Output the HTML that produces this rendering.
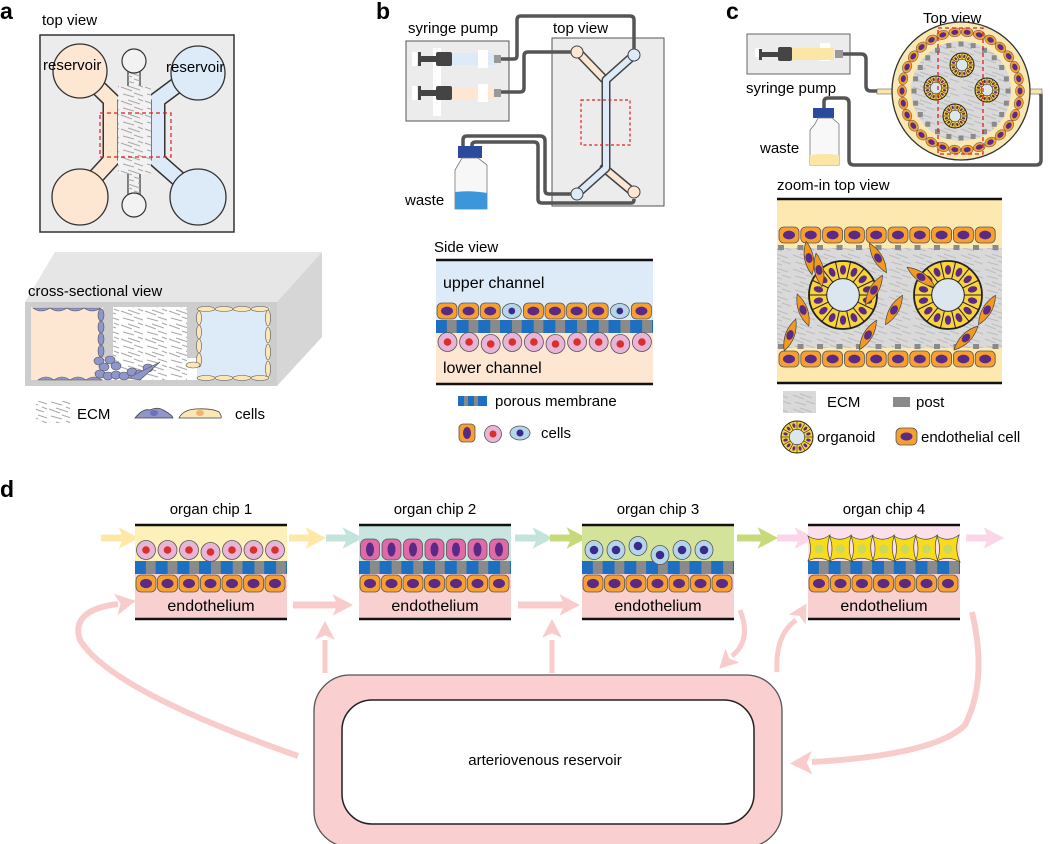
<!DOCTYPE html>
<html><head><meta charset="utf-8"><style>
html,body{margin:0;padding:0;background:#fff;}
svg{display:block;font-family:"Liberation Sans",sans-serif;}
</style></head><body>
<svg id="s" width="1050" height="844" viewBox="0 0 1050 844" xmlns="http://www.w3.org/2000/svg">
<defs>
<pattern id="ecm" width="24" height="14" patternUnits="userSpaceOnUse">
<path d="M1,3 L12,7 M8,2 L20,6 M3,10 L14,13 M14,9 L23,12 M18,1 L23,3" stroke="#a8a8a8" stroke-width="1" fill="none"/>
</pattern>
<pattern id="ecm2" width="24" height="14" patternUnits="userSpaceOnUse">
<rect width="24" height="14" fill="#d9d9d9"/>
<path d="M1,3 L12,7 M8,2 L20,6 M3,10 L14,13 M14,9 L23,12" stroke="#bdbdbd" stroke-width="1" fill="none"/>
</pattern>
</defs>

<!-- ===== Panel a ===== -->
<text x="0" y="19" font-size="23" font-weight="bold">a</text>
<text x="42" y="25" font-size="15">top view</text>
<rect x="40" y="35" width="194" height="197" fill="#ececec" stroke="#333" stroke-width="1.5"/>
<g stroke="#333" stroke-width="17" fill="none" stroke-linejoin="miter">
<path d="M78,68 L111,100 L111,160 L78,196"/>
<path d="M200,68 L157,100 L157,160 L198,196"/>
</g>
<g stroke-width="14" fill="none">
<path d="M78,68 L111,100 L111,160 L78,196" stroke="#fde6d2"/>
<path d="M200,68 L157,100 L157,160 L198,196" stroke="#ddeaf8"/>
</g>
<circle cx="80" cy="71" r="27" fill="#fde6d2" stroke="#333" stroke-width="1.3"/>
<circle cx="198" cy="73" r="27" fill="#ddeaf8" stroke="#333" stroke-width="1.3"/>
<circle cx="80" cy="197" r="28" fill="#fde6d2" stroke="#333" stroke-width="1.3"/>
<circle cx="198" cy="197" r="28" fill="#ddeaf8" stroke="#333" stroke-width="1.3"/>
<polygon points="128,70 128,86 118,100 118,160 128,172 128,195 140,195 140,172 151,160 151,100 140,86 140,70" fill="#f2f2f2" stroke="#333" stroke-width="1.2"/>
<polygon points="128,70 128,86 118,100 118,160 128,172 128,195 140,195 140,172 151,160 151,100 140,86 140,70" fill="url(#ecm)"/>
<circle cx="134" cy="61" r="12" fill="#f2f2f2" stroke="#333" stroke-width="1.2"/>
<circle cx="134" cy="205" r="12" fill="#f2f2f2" stroke="#333" stroke-width="1.2"/>
<rect x="118" y="86" width="33" height="88" fill="#f2f2f2"/>
<rect x="118" y="86" width="33" height="88" fill="url(#ecm)"/>
<text x="43" y="70" font-size="15">reservoir</text>
<text x="166" y="72" font-size="15">reservoir</text>
<rect x="100" y="113" width="71" height="44" fill="none" stroke="#e02020" stroke-width="1.2" stroke-dasharray="4,3"/>

<!-- cross-section box -->
<polygon points="25,302 55,252 322,252 277,302" fill="#e6e6e6"/>
<polygon points="277,302 322,252 322,337 277,386" fill="#d6d6d6"/>
<rect x="25" y="302" width="252" height="84" fill="#cdcdcd"/>
<text x="28" y="296" font-size="15">cross-sectional view</text>
<rect x="31" y="307" width="72" height="73" fill="#fde6d2"/>
<rect x="103" y="358" width="94" height="22" fill="#fff"/>
<rect x="113" y="307" width="74" height="73" fill="#fff"/>
<rect x="113" y="307" width="74" height="73" fill="url(#ecm)"/>
<rect x="197" y="307" width="73" height="73" fill="#ddeaf8"/>
<g id="acells"></g>
<rect x="36" y="401" width="34" height="22" fill="url(#ecm)"/>
<text x="77" y="419" font-size="15">ECM</text>
<path d="M135,418 Q143,408 150,410 Q158,406 165,411 Q172,415 173,418 Z" fill="#8e96cc" stroke="#444" stroke-width="0.8"/>
<ellipse cx="154" cy="413" rx="4" ry="3" fill="#6a72b8"/>
<path d="M179,418 Q183,410 195,409 Q212,408 219,412 Q222,416 221,418 Z" fill="#fbe7b5" stroke="#444" stroke-width="0.8"/>
<ellipse cx="200" cy="413" rx="4" ry="3" fill="#f4b36a"/>
<text x="235" y="419" font-size="15">cells</text>

<!-- ===== Panel b ===== -->
<text x="376" y="19" font-size="23" font-weight="bold">b</text>
<text x="408" y="33" font-size="15">syringe pump</text>
<text x="553" y="33" font-size="15">top view</text>
<rect x="406" y="41" width="103" height="80" fill="#ececec" stroke="#555" stroke-width="1"/>
<rect x="433" y="48" width="8" height="68" fill="#fff"/>
<g>
<rect x="412" y="52" width="5" height="14" fill="#fff"/>
<rect x="418" y="56" width="20" height="6" fill="#444"/>
<rect x="418" y="52" width="3" height="14" fill="#444"/>
<rect x="436" y="52" width="16" height="14" fill="#444" rx="2"/>
<rect x="452" y="53" width="46" height="12" fill="#ddeaf8"/>
<rect x="478" y="50" width="10" height="18" fill="#fff"/>
<rect x="494" y="55" width="7" height="8" fill="#999"/>
<rect x="412" y="86" width="5" height="14" fill="#fff"/>
<rect x="418" y="90" width="20" height="6" fill="#444"/>
<rect x="418" y="86" width="3" height="14" fill="#444"/>
<rect x="436" y="86" width="16" height="14" fill="#444" rx="2"/>
<rect x="452" y="87" width="46" height="12" fill="#fde6d2"/>
<rect x="478" y="84" width="10" height="18" fill="#fff"/>
<rect x="494" y="89" width="7" height="8" fill="#999"/>
</g>
<rect x="552" y="38" width="112" height="168" fill="#ececec" stroke="#555" stroke-width="1"/>
<g fill="none" stroke-linecap="round" stroke-linejoin="round">
<path d="M578,52 L604,79" stroke="#444" stroke-width="9"/>
<path d="M578,52 L604,79" stroke="#fde6d2" stroke-width="6"/>
<path d="M604,168 L634,193" stroke="#444" stroke-width="9"/>
<path d="M604,168 L634,193" stroke="#fde6d2" stroke-width="6"/>
<path d="M634,55 L606,80 L606,168 L577,194" stroke="#444" stroke-width="9"/>
<path d="M634,55 L606,80 L606,168 L577,194" stroke="#ddeaf8" stroke-width="6"/>
</g>
<circle cx="577" cy="52" r="6" fill="#fde6d2" stroke="#444"/>
<circle cx="634" cy="55" r="6" fill="#ddeaf8" stroke="#444"/>
<circle cx="577" cy="194" r="6" fill="#ddeaf8" stroke="#444"/>
<circle cx="634" cy="192" r="6" fill="#fde6d2" stroke="#444"/>
<rect x="581" y="100" width="49" height="45" fill="none" stroke="#e02020" stroke-width="1.2" stroke-dasharray="3,2.5"/>
<g fill="none" stroke="#555" stroke-width="3.5" stroke-linejoin="round">
<path d="M501,59 L514,59 Q517,59 517,55 L517,20 Q517,16 521,16 L630,16 Q634,16 634,20 L634,49"/>
<path d="M501,92 L520,92 Q524,92 524,88 L524,56 Q524,52 528,52 L571,52"/>
<path d="M463,150 L463,140 Q463,136 467,136 L540,136 Q545,136 545,141 L545,190 Q545,194 549,194 L571,194"/>
<path d="M472,150 L472,145 Q472,142 476,142 L534,142 Q538,142 538,146 L538,199 Q538,203 542,203 L631,203 Q634,203 634,199"/>
</g>
<rect x="458" y="146" width="24" height="12" fill="#2a4a9e"/>
<path d="M458,165 L462,158 L478,158 L487,165 L487,209 L455,209 L455,170 Z" fill="#f7f7f7" stroke="#777" stroke-width="0.8"/>
<path d="M455,192 Q470,190 487,193 L487,209 L455,209 Z" fill="#3b97d9"/>
<text x="405" y="205" font-size="15">waste</text>

<text x="434" y="252" font-size="15">Side view</text>
<rect x="436" y="261" width="217" height="60" fill="#ddeaf8"/>
<rect x="436" y="320" width="217" height="63" fill="#fde6d2"/>
<line x1="436" y1="260" x2="653" y2="260" stroke="#111" stroke-width="2.5"/>
<line x1="436" y1="384" x2="653" y2="384" stroke="#111" stroke-width="2.5"/>
<text x="443" y="288" font-size="16">upper channel</text>
<text x="443" y="373" font-size="16">lower channel</text>
<rect x="436" y="320" width="217" height="13" fill="#1c6fc1"/>
<g id="bside"></g>
<rect x="458" y="396" width="29" height="10" fill="#1c6fc1"/>
<rect x="464" y="396" width="4" height="10" fill="#888"/><rect x="474" y="396" width="4" height="10" fill="#888"/>
<text x="495" y="406" font-size="15">porous membrane</text>
<rect x="459" y="424" width="16" height="18" rx="4" fill="#f7a030" stroke="#555" stroke-width="0.8"/>
<ellipse cx="467" cy="433" rx="4" ry="6" fill="#5b2a86"/>
<circle cx="493" cy="434" r="8.5" fill="#e8b4d8" stroke="#555" stroke-width="0.8"/>
<circle cx="493" cy="434" r="3.5" fill="#d9302c"/>
<ellipse cx="520" cy="433" rx="10" ry="7" fill="#b5d5ea" stroke="#555" stroke-width="0.8"/>
<circle cx="520" cy="433" r="3.5" fill="#3a2a8c"/>
<text x="541" y="438" font-size="15">cells</text>

<!-- ===== Panel c ===== -->
<text x="726" y="19" font-size="23" font-weight="bold">c</text>
<text x="923" y="23" font-size="15">Top view</text>
<rect x="747" y="34" width="103" height="40" fill="#ececec" stroke="#666" stroke-width="1"/>
<rect x="755" y="48" width="6" height="9" fill="#fff"/><rect x="820" y="43" width="10" height="18" fill="#fff"/>
<rect x="759" y="49" width="3" height="11" fill="#444"/>
<rect x="760" y="52" width="20" height="5" fill="#444"/>
<rect x="778" y="47" width="14" height="14" rx="2" fill="#444"/>
<rect x="792" y="48" width="42" height="12" fill="#fbe6a6"/>
<rect x="835" y="50" width="8" height="8" fill="#999"/>
<text x="746" y="93" font-size="15">syringe pump</text>
<g fill="none" stroke="#555" stroke-width="3.5" stroke-linejoin="round">
<path d="M843,54 L861,54 Q866,54 866,59 L866,86 Q866,91 871,91 L880,91"/>
<path d="M824,112 L824,102 Q824,98 828,98 L844,98 Q849,98 849,103 L849,160 Q849,165 854,165 L1036,165 Q1041,165 1041,160 L1041,96 Q1041,91 1036,91 L1030,91"/>
</g>
<rect x="877" y="89" width="17" height="5" fill="#fbe6a6" stroke="#666" stroke-width="0.6"/>
<rect x="1028" y="89" width="14" height="5" fill="#fbe6a6" stroke="#666" stroke-width="0.6"/>
<rect x="813" y="108" width="21" height="10" fill="#2a4a9e"/>
<path d="M815,124 L818,118 L832,118 L839,124 L839,165 L810,165 L810,130 Z" fill="#f8f8f8" stroke="#777" stroke-width="0.8"/>
<path d="M810,155 Q824,153 839,155 L839,165 L810,165 Z" fill="#fbe6a6"/>
<text x="760" y="153" font-size="15">waste</text>
<circle cx="961" cy="91" r="69" fill="#fbe8b0" stroke="#333" stroke-width="1.3"/>
<circle cx="961" cy="91" r="50" fill="url(#ecm2)"/>
<g id="ctop"></g>
<rect x="938" y="28" width="45" height="126" fill="none" stroke="#e02020" stroke-width="1.3" stroke-dasharray="4,3"/>

<text x="777" y="190" font-size="15">zoom-in top view</text>
<rect x="777" y="200" width="225" height="182" fill="#fde9b0"/>
<rect x="777" y="248" width="225" height="100" fill="url(#ecm2)"/>
<line x1="777" y1="199" x2="1002" y2="199" stroke="#111" stroke-width="2.5"/>
<line x1="777" y1="383" x2="1002" y2="383" stroke="#111" stroke-width="2.5"/>
<g id="czoom"></g>
<rect x="783" y="391" width="33" height="22" fill="url(#ecm2)"/>
<text x="827" y="407" font-size="15">ECM</text>
<rect x="893" y="397" width="17" height="10" fill="#8a8a8a"/>
<text x="916" y="407" font-size="15">post</text>
<g id="clegend"></g>
<text x="817" y="442" font-size="15">organoid</text>
<rect x="896" y="428" width="21" height="17" rx="5" fill="#f7a030" stroke="#555" stroke-width="0.8"/>
<ellipse cx="906.5" cy="436.5" rx="6" ry="4" fill="#5b2a86"/>
<text x="921" y="442" font-size="15">endothelial cell</text>

<!-- ===== Panel d ===== -->
<text x="0" y="497" font-size="23" font-weight="bold">d</text>
<g id="darrows"></g>
<g id="chips"></g>
<rect x="314" y="675" width="468" height="172" rx="36" fill="#f9cfcf" stroke="#555" stroke-width="1.3"/>
<rect x="342" y="700" width="412" height="124" rx="30" fill="#fff" stroke="#222" stroke-width="1.5"/>
<text x="545" y="765" font-size="15" text-anchor="middle">arteriovenous reservoir</text>
</svg>
<script>
var NS="http://www.w3.org/2000/svg";
function el(p,t,a){var e=document.createElementNS(NS,t);for(var k in a)e.setAttribute(k,a[k]);p.appendChild(e);return e;}
function $(i){return document.getElementById(i);}
function endo(g,x,y,w,h){el(g,"rect",{x:x,y:y,width:w,height:h,rx:Math.min(w,h)*0.3,fill:"#f7a030",stroke:"#555","stroke-width":0.8});
 el(g,"ellipse",{cx:x+w/2,cy:y+h/2,rx:w*0.3,ry:h*0.27,fill:"#5b2a86"});}
function pinkC(g,cx,cy,r){el(g,"circle",{cx:cx,cy:cy,r:r,fill:"#e8b4d8",stroke:"#555","stroke-width":0.8});el(g,"circle",{cx:cx,cy:cy,r:r*0.4,fill:"#d9302c"});}
function blueC(g,cx,cy,rx,ry){el(g,"ellipse",{cx:cx,cy:cy,rx:rx,ry:ry,fill:"#b5d5ea",stroke:"#555","stroke-width":0.8});el(g,"circle",{cx:cx,cy:cy,r:ry*0.45,fill:"#3a2a8c"});}
function membrane(g,x,y,w,h,n){var s=w/n;for(var i=0;i<n;i++){el(g,"rect",{x:x+i*s+s*0.5,y:y,width:s*0.45,height:h,fill:"#8a8a8a"});}}

var ga=$("acells");
for(var i=0;i<4;i++){el(ga,"path",{d:"M"+(33+i*17)+",308 q8,6 17,0 z",fill:"#8e96cc",stroke:"#555","stroke-width":0.6});
 el(ga,"path",{d:"M"+(38+i*16)+",380 q8,-6 16,0 z",fill:"#8e96cc",stroke:"#555","stroke-width":0.6});}
for(var i=0;i<4;i++)el(ga,"ellipse",{cx:101,cy:315+i*12,rx:3,ry:6,fill:"#8e96cc",stroke:"#555","stroke-width":0.6});
var pts=[[99,361],[104,367],[110,360],[116,366],[100,374],[108,376],[116,375],[124,376],[132,372],[140,374],[148,368]];
pts.forEach(function(p){el(ga,"ellipse",{cx:p[0],cy:p[1],rx:5,ry:4,fill:"#8e96cc",stroke:"#555","stroke-width":0.6});});
el(ga,"path",{d:"M128,378 L160,362 L140,380 Z",fill:"#8e96cc",stroke:"#555","stroke-width":0.6});
for(var i=0;i<4;i++){el(ga,"ellipse",{cx:206+i*18,cy:309,rx:9,ry:2.5,fill:"#fbe7b5",stroke:"#555","stroke-width":0.6});
 el(ga,"ellipse",{cx:206+i*18,cy:378,rx:9,ry:2.5,fill:"#fbe7b5",stroke:"#555","stroke-width":0.6});
 el(ga,"ellipse",{cx:268,cy:318+i*17,rx:2.5,ry:8,fill:"#fbe7b5",stroke:"#555","stroke-width":0.6});}
for(var i=0;i<4;i++)el(ga,"ellipse",{cx:199,cy:318+i*14,rx:2.5,ry:7,fill:"#fbe7b5",stroke:"#555","stroke-width":0.6});
el(ga,"ellipse",{cx:193,cy:365,rx:7,ry:3,fill:"#fbe7b5",stroke:"#555","stroke-width":0.6});

var gb=$("bside");
membrane(gb,436,320,217,13,10);
var types="OOOBOOOOBO";
for(var i=0;i<10;i++){var x=437+i*21.6;
 if(types[i]=="O")endo(gb,x,303,20,16);else blueC(gb,x+10,311,9.5,7.5);
 pinkC(gb,x+10.5,342+(i%3==2?2:0),9.5);}

var gc=$("ctop");
for(var i=0;i<30;i++){var a=i/30*2*Math.PI,cx=961+59*Math.cos(a),cy=91+59*Math.sin(a);
 var e=el(gc,"g",{transform:"translate("+cx+","+cy+") rotate("+(a*180/Math.PI)+")"});
 el(e,"ellipse",{cx:0,cy:0,rx:4.5,ry:6,fill:"#f7a030",stroke:"#555","stroke-width":0.5});
 el(e,"ellipse",{cx:0,cy:0,rx:2.5,ry:3.5,fill:"#5b2a86"});}
for(var i=0;i<24;i++){var a=i/24*2*Math.PI;el(gc,"rect",{x:961+47*Math.cos(a)-2.5,y:91+47*Math.sin(a)-2.5,width:5,height:5,fill:"#8a8a8a"});}
function organoid(g,cx,cy,r){el(g,"circle",{cx:cx,cy:cy,r:r,fill:"#f8d43a",stroke:"#222","stroke-width":r>20?1.8:1});
 var n=r>20?14:12;for(var i=0;i<n;i++){var a=i/n*2*Math.PI,ri=r*0.48;
  el(g,"line",{x1:cx+ri*Math.cos(a),y1:cy+ri*Math.sin(a),x2:cx+r*Math.cos(a),y2:cy+r*Math.sin(a),stroke:"#222","stroke-width":r>20?1:0.6});
  var b=a+Math.PI/n,rm=r*0.74;el(g,"ellipse",{cx:cx+rm*Math.cos(b),cy:cy+rm*Math.sin(b),rx:r*0.09,ry:r*0.14,fill:"#5b2a86",transform:"rotate("+(b*180/Math.PI+90)+","+(cx+rm*Math.cos(b))+","+(cy+rm*Math.sin(b))+")"});}
 el(g,"circle",{cx:cx,cy:cy,r:r*0.48,fill:"#dbe6ee",stroke:"#222","stroke-width":r>20?1:0.6});}
organoid(gc,962,65,12);organoid(gc,936,88,12);organoid(gc,987,90,12);organoid(gc,955,116,12);
organoid($("clegend"),797,437,16);

var gz=$("czoom");
for(var i=0;i<10;i++){endo(gz,779+i*21.8,227,20,16);endo(gz,779+i*21.8,351,20,16);}
for(var i=0;i<12;i++){el(gz,"rect",{x:778+i*19.5,y:245,width:6,height:5,fill:"#8a8a8a"});el(gz,"rect",{x:778+i*19.5,y:344,width:6,height:5,fill:"#8a8a8a"});}
function spindle(g,cx,cy,ang){var t=el(g,"g",{transform:"translate("+cx+","+cy+") rotate("+ang+")"});
 el(t,"path",{d:"M-17,0 Q0,-9 17,0 Q0,9 -17,0 Z",fill:"#f39a1c",stroke:"#444","stroke-width":0.7});
 el(t,"ellipse",{cx:0,cy:0,rx:5,ry:3.5,fill:"#5b2a86"});}
organoid(gz,843,295,34);organoid(gz,948,295,34);
[[809,258,80],[819,270,80],[803,310,70],[790,335,-70],[878,258,60],[874,290,120],[894,310,-60],[868,335,-60],[921,277,35],[987,310,-60],[966,338,-45]].forEach(function(p){spindle(gz,p[0],p[1],p[2]);});

var gd=$("darrows");
function thick(d,c,w){el(gd,"path",{d:d,fill:"none",stroke:c,"stroke-width":w||6});}
function head(x,y,ang,c,s){s=s||11;el(gd,"path",{d:"M"+s+",0 L"+(-s*0.7)+","+(-s*0.9)+" L"+(-s*0.3)+",0 L"+(-s*0.7)+","+(s*0.9)+" Z",fill:c,transform:"translate("+x+","+y+") rotate("+ang+")"});}
function harrow(x1,x2,y,c){thick("M"+x1+","+y+" L"+(x2-8)+","+y,c,7);head(x2-6,y,0,c,12);}
var P="#f9cccc";
harrow(101,133,538,"#fde8a8");harrow(289,320,538,"#fde8a8");harrow(326,357,538,"#c2e4dc");harrow(515,547,538,"#c2e4dc");
harrow(550,581,538,"#c6da7a");harrow(737,772,538,"#c6da7a");harrow(777,809,538,"#fad6e8");harrow(966,998,538,"#fad6e8");
harrow(293,347,605,P);harrow(518,574,605,P);
thick("M298,756 Q110,690 80,640 Q70,610 118,604",P,6);head(124,603,-10,P,12);
thick("M325,673 L325,640",P,5);head(325,632,-90,P,11);
thick("M552,673 L552,640",P,5);head(552,630,-90,P,11);
thick("M740,610 Q752,640 732,656",P,5);head(727,661,135,P,11);
thick("M777,672 Q775,635 796,620",P,5);head(801,613,-60,P,11);
thick("M972,612 Q988,680 965,725 Q935,755 812,762",P,6);head(803,763,178,P,13);

var gch=$("chips");
var cols=["#fdf0b8","#c8e6df","#d4e39a","#fbe0ec"];
var xs=[135,359,582,808];var names=["organ chip 1","organ chip 2","organ chip 3","organ chip 4"];
for(var c=0;c<4;c++){var x=xs[c],w=152;
 var t=el(gch,"text",{x:x+w/2,y:514,"font-size":15,"text-anchor":"middle"});t.textContent=names[c];
 el(gch,"rect",{x:x,y:525,width:w,height:37,fill:cols[c]});
 el(gch,"rect",{x:x,y:574,width:w,height:45,fill:"#f9d0d0"});
 el(gch,"rect",{x:x,y:561,width:w,height:13,fill:"#1c6fc1"});
 membrane(gch,x,561,w,13,7);
 for(var i=0;i<7;i++)endo(gch,x+1+i*21.5,575,20,17);
 for(var i=0;i<7;i++){var cx=x+11+i*21.5;
  if(c==0)pinkC(gch,cx,550+(i==3?2:0),9.5);
  else if(c==1){el(gch,"rect",{x:cx-9.5,y:539,width:19,height:21,rx:6,fill:"#e06aa8",stroke:"#555","stroke-width":0.8});el(gch,"ellipse",{cx:cx,cy:549.5,rx:4,ry:7,fill:"#5b2a86"});}
  else if(c==2){if(i<6)blueC(gch,x+12+i*22,550+(i==2?-4:(i==3?5:0)),9,9.5);}
  else{el(gch,"path",{d:"M"+(cx-11)+",536 Q"+cx+",543 "+(cx+11)+",535 Q"+(cx+6)+",549 "+(cx+12)+",562 Q"+cx+",555 "+(cx-11)+",561 Q"+(cx-6)+",549 "+(cx-11)+",536 Z",fill:"#f8dc1a",stroke:"#444","stroke-width":0.7});el(gch,"circle",{cx:cx,cy:549,r:4.5,fill:"#c8d860"});}
 }
 el(gch,"line",{x1:x,y1:525,x2:x+w,y2:525,stroke:"#111","stroke-width":2.5});
 el(gch,"line",{x1:x,y1:619,x2:x+w,y2:619,stroke:"#111","stroke-width":2.5});
 var t2=el(gch,"text",{x:x+w/2,y:611,"font-size":16,"text-anchor":"middle"});t2.textContent="endothelium";
}
</script>
</body></html>
